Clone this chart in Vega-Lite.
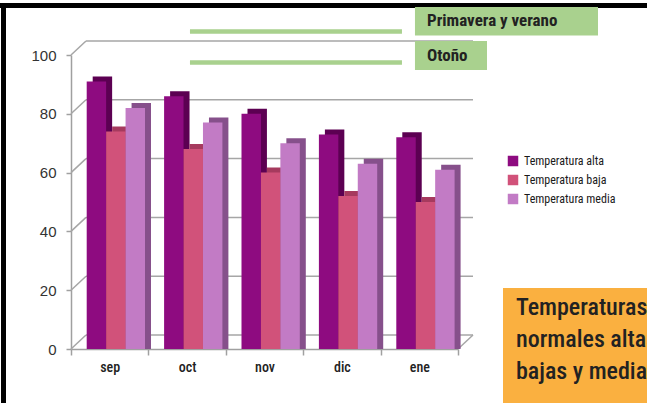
{
  "$schema": "https://vega.github.io/schema/vega-lite/v6.json",
  "width": 387,
  "height": 294,
  "autosize": {"type": "none"},
  "padding": {"left": 71, "top": 55, "right": 189, "bottom": 54},
  "background": "white",
  "config": {
    "view": {"stroke": null},
    "font": "Roboto Condensed, DejaVu Sans Condensed, Roboto",
    "axisY": {"labelFont": "Liberation Sans", "labelFontSize": 15, "labelColor": "#333333", "tickColor": "#a0a0a0", "tickSize": 5, "domainColor": "#a0a0a0", "domainWidth": 1.5, "tickWidth": 1.5, "labelPadding": 10, "grid": false},
    "axisX": {"labelFont": "Roboto Condensed, DejaVu Sans Condensed, Roboto", "labelFontSize": 14, "labelFontWeight": 500, "labelColor": "#222222", "labelAngle": 0, "tickBand": "extent", "tickSize": 6, "tickColor": "#a0a0a0", "tickWidth": 1.5, "domainColor": "#a0a0a0", "domainWidth": 1.5, "labelPadding": 5, "grid": false}
  },
  "datasets": {
    "temps": [
      {"mes": "sep", "serie": "Temperatura alta", "valor": 91},
      {"mes": "sep", "serie": "Temperatura baja", "valor": 74},
      {"mes": "sep", "serie": "Temperatura media", "valor": 82},
      {"mes": "oct", "serie": "Temperatura alta", "valor": 86},
      {"mes": "oct", "serie": "Temperatura baja", "valor": 68},
      {"mes": "oct", "serie": "Temperatura media", "valor": 77},
      {"mes": "nov", "serie": "Temperatura alta", "valor": 80},
      {"mes": "nov", "serie": "Temperatura baja", "valor": 60},
      {"mes": "nov", "serie": "Temperatura media", "valor": 70},
      {"mes": "dic", "serie": "Temperatura alta", "valor": 73},
      {"mes": "dic", "serie": "Temperatura baja", "valor": 52},
      {"mes": "dic", "serie": "Temperatura media", "valor": 63},
      {"mes": "ene", "serie": "Temperatura alta", "valor": 72},
      {"mes": "ene", "serie": "Temperatura baja", "valor": 50},
      {"mes": "ene", "serie": "Temperatura media", "valor": 61}
    ],
    "ticks": [{"v": 0}, {"v": 20}, {"v": 40}, {"v": 60}, {"v": 80}, {"v": 100}]
  },
  "resolve": {"scale": {"color": "independent", "xOffset": "independent"}},
  "layer": [
    {
      "data": {"name": "ticks"},
      "mark": {"type": "rule", "color": "#a6a6a6", "strokeWidth": 1.5, "xOffset": 15, "x2Offset": 15, "yOffset": -14},
      "encoding": {
        "y": {"field": "v", "type": "quantitative", "title": null, "scale": {"domain": [0, 100], "nice": false}, "axis": {"values": [0, 20, 40, 60, 80, 100], "title": null}},
        "x": {"datum": "sep", "type": "nominal", "bandPosition": 0, "title": null, "scale": {"domain": ["sep", "oct", "nov", "dic", "ene"], "paddingInner": 0, "paddingOuter": 0}},
        "x2": {"datum": "ene", "bandPosition": 1}
      }
    },
    {
      "data": {"name": "ticks"},
      "mark": {"type": "rule", "color": "#a6a6a6", "strokeWidth": 1.5, "x2Offset": 15, "y2Offset": -14},
      "encoding": {
        "y": {"field": "v", "type": "quantitative", "title": null},
        "y2": {"field": "v"},
        "x": {"datum": "sep", "type": "nominal", "bandPosition": 0, "title": null},
        "x2": {"datum": "sep", "bandPosition": 0}
      }
    },
    {
      "data": {"values": [{}]},
      "mark": {"type": "rule", "color": "#a6a6a6", "strokeWidth": 1.5, "x2Offset": 15, "y2Offset": -14},
      "encoding": {
        "y": {"datum": 0, "type": "quantitative", "title": null},
        "y2": {"datum": 0},
        "x": {"datum": "ene", "type": "nominal", "bandPosition": 1, "title": null},
        "x2": {"datum": "ene", "bandPosition": 1}
      }
    },
    {
      "data": {"name": "temps"},
      "mark": {"type": "bar", "yOffset": -5, "y2Offset": -5},
      "encoding": {
        "x": {"field": "mes", "type": "nominal", "title": null},
        "xOffset": {"field": "serie", "type": "nominal", "scale": {"range": [21.7, 80]}},
        "y": {"field": "valor", "type": "quantitative", "stack": null, "title": null},
        "color": {"field": "serie", "type": "nominal", "legend": null, "scale": {"range": ["#5c0052", "#a63a5e", "#86508b"]}}
      }
    },
    {
      "data": {"name": "temps"},
      "mark": {"type": "bar"},
      "encoding": {
        "x": {"field": "mes", "type": "nominal", "title": null},
        "xOffset": {"field": "serie", "type": "nominal", "scale": {"range": [15.7, 74]}},
        "y": {"field": "valor", "type": "quantitative", "stack": null, "title": null},
        "color": {
          "field": "serie", "type": "nominal",
          "scale": {"range": ["#8e0b80", "#d1527a", "#c27bc5"]},
          "legend": {"title": null, "orient": "none", "legendX": 436, "legendY": 100, "symbolType": "square", "symbolSize": 110, "symbolStrokeWidth": 0, "labelFont": "Roboto Condensed, DejaVu Sans Condensed, Roboto", "labelFontSize": 12, "labelColor": "#1a1a1a", "rowPadding": 7, "labelOffset": 5}
        }
      }
    },
    {
      "data": {"values": [{}]},
      "mark": {"type": "rule", "color": "#000000", "strokeWidth": 5, "xOffset": -71, "x2Offset": 190, "yOffset": -49.5},
      "encoding": {
        "y": {"datum": 100, "type": "quantitative", "title": null},
        "x": {"datum": "sep", "type": "nominal", "bandPosition": 0, "title": null},
        "x2": {"datum": "ene", "bandPosition": 1}
      }
    },
    {
      "data": {"values": [{}]},
      "mark": {"type": "rule", "color": "#000000", "strokeWidth": 5, "xOffset": -67.5, "yOffset": -52, "y2Offset": 60},
      "encoding": {
        "x": {"datum": "sep", "type": "nominal", "bandPosition": 0, "title": null},
        "y": {"datum": 100, "type": "quantitative", "title": null},
        "y2": {"datum": 0}
      }
    },
    {
      "data": {"values": [{}]},
      "mark": {"type": "rule", "color": "#a9d18e", "strokeWidth": 4.5},
      "encoding": {
        "y": {"datum": 108.0, "type": "quantitative", "title": null},
        "x": {"datum": "oct", "type": "nominal", "bandPosition": 0.537, "title": null},
        "x2": {"datum": "ene", "bandPosition": 0.276}
      }
    },
    {
      "data": {"values": [{}]},
      "mark": {"type": "rule", "color": "#a9d18e", "strokeWidth": 4.5},
      "encoding": {
        "y": {"datum": 97.45, "type": "quantitative", "title": null},
        "x": {"datum": "oct", "type": "nominal", "bandPosition": 0.537, "title": null},
        "x2": {"datum": "ene", "bandPosition": 0.276}
      }
    },
    {
      "data": {"values": [{}]},
      "mark": {"type": "rect", "color": "#a9d18e", "x2Offset": 140},
      "encoding": {
        "y": {"datum": 116.3, "type": "quantitative", "title": null},
        "y2": {"datum": 106.6},
        "x": {"datum": "ene", "type": "nominal", "bandPosition": 0.444, "title": null},
        "x2": {"datum": "ene", "bandPosition": 1}
      }
    },
    {
      "data": {"values": [{}]},
      "mark": {"type": "rect", "color": "#a9d18e", "x2Offset": 29},
      "encoding": {
        "y": {"datum": 104.8, "type": "quantitative", "title": null},
        "y2": {"datum": 94.9},
        "x": {"datum": "ene", "type": "nominal", "bandPosition": 0.444, "title": null},
        "x2": {"datum": "ene", "bandPosition": 1}
      }
    },
    {
      "data": {"values": [{"texto": "Primavera y verano"}]},
      "mark": {"type": "text", "align": "left", "baseline": "middle", "font": "Roboto Condensed, DejaVu Sans Condensed, Roboto", "fontWeight": "bold", "fontSize": 17, "color": "#222222"},
      "encoding": {
        "y": {"datum": 111.4, "type": "quantitative", "title": null},
        "x": {"datum": "ene", "type": "nominal", "bandPosition": 0.6, "title": null},
        "text": {"field": "texto", "type": "nominal"}
      }
    },
    {
      "data": {"values": [{"texto": "Otoño"}]},
      "mark": {"type": "text", "align": "left", "baseline": "middle", "font": "Roboto Condensed, DejaVu Sans Condensed, Roboto", "fontWeight": "bold", "fontSize": 17, "color": "#222222"},
      "encoding": {
        "y": {"datum": 99.7, "type": "quantitative", "title": null},
        "x": {"datum": "ene", "type": "nominal", "bandPosition": 0.6, "title": null},
        "text": {"field": "texto", "type": "nominal"}
      }
    },
    {
      "data": {"values": [{}]},
      "mark": {"type": "rect", "color": "#fab040", "xOffset": 45, "x2Offset": 200},
      "encoding": {
        "y": {"datum": 20.75, "type": "quantitative", "title": null},
        "y2": {"datum": -25},
        "x": {"datum": "ene", "type": "nominal", "bandPosition": 1, "title": null},
        "x2": {"datum": "ene", "bandPosition": 1}
      }
    },
    {
      "data": {"values": [{"texto": "Temperaturas\nnormales altas,\nbajas y medias"}]},
      "mark": {"type": "text", "align": "left", "baseline": "top", "lineBreak": "\n", "lineHeight": 32, "font": "Roboto Condensed, DejaVu Sans Condensed, Roboto", "fontWeight": 500, "fontSize": 24, "color": "#222222", "xOffset": 58},
      "encoding": {
        "y": {"datum": 18.0, "type": "quantitative", "title": null},
        "x": {"datum": "ene", "type": "nominal", "bandPosition": 1, "title": null},
        "text": {"field": "texto", "type": "nominal"}
      }
    }
  ]
}
